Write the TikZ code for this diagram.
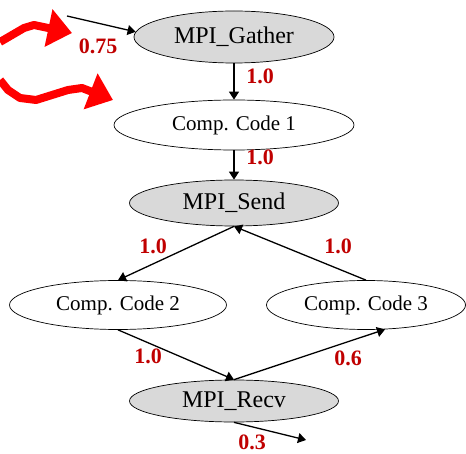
\documentclass[tikz,border=0pt]{standalone}
\usepackage{fontspec}
\setmainfont{Liberation Serif}
\definecolor{mpigray}{RGB}{217,217,217}
\definecolor{wtred}{RGB}{192,0,0}
\definecolor{flowred}{RGB}{255,0,0}
\usetikzlibrary{shapes.geometric, arrows.meta, calc}
\tikzset{
    taskbox/.style={draw, ellipse, inner sep=0pt, line width=0.7pt, font=\fontsize{21}{24}\selectfont},
    mpibox/.style={taskbox, fill=mpigray, font=\fontsize{24}{28}\selectfont},
    codebox/.style={taskbox, fill=white},
    flowarrow/.style={-{Triangle[length=8pt, width=10pt]}, line width=1.3pt},
    weight/.style={font=\bfseries\fontsize{22}{24}\selectfont, text=wtred},
    hintarrow/.style={-{Triangle[length=24pt, width=37pt]}, line width=8pt, draw=flowred, line join=round},
}
\begin{document}
\begin{tikzpicture}[x=1pt, y=-1pt]
    \useasboundingbox (0,0) rectangle (466,454);

    % Tasks
    \node[mpibox, minimum width=200pt, minimum height=52pt] (gather) at (234, 37) {MPI\_Gather};
    \node[codebox, minimum width=240pt, minimum height=50pt] (code1) at (234, 125) {Comp. Code 1};
    \node[mpibox, minimum width=209pt, minimum height=46pt] (send) at (234, 203) {MPI\_Send};
    \node[codebox, minimum width=217pt, minimum height=49pt] (code2) at (118, 305) {Comp. Code 2};
    \node[codebox, minimum width=199pt, minimum height=49pt] (code3) at (366, 305) {Comp. Code 3};
    \node[mpibox, minimum width=209pt, minimum height=42pt] (recv) at (234, 401) {MPI\_Recv};

    % Loose ends
    \coordinate (in) at (67, 16);
    \coordinate (out) at (306, 440);

    % Edges
    \draw[flowarrow] (in) -- (gather.177);
    \draw[flowarrow] (gather) -- (code1);
    \draw[flowarrow] (code1) -- (send);
    \draw[flowarrow] (send.south) -- (code2.north);
    \draw[flowarrow] (code3.north) -- (send.south);
    \draw[flowarrow] (code2.south) -- (recv.north);
    \draw[flowarrow] (recv.north) -- (code3.-52);
    \draw[flowarrow] (recv.south) -- (out);

    % Weights
    \node[weight] (w0) at (98, 46) {0.75};
    \node[weight] (w1) at (260, 76) {1.0};
    \node[weight] (w2) at (260, 157) {1.0};
    \node[weight] (w3) at (153, 246) {1.0};
    \node[weight] (w4) at (338, 246) {1.0};
    \node[weight] (w5) at (148, 356) {1.0};
    \node[weight] (w6) at (348, 358) {0.6};
    \node[weight] (w7) at (252, 442) {0.3};

    % Red hint arrows
    \draw[hintarrow] (0,42) -- (12,35) -- (24,28) -- (34,25) -- (72,33);
    \draw[hintarrow] (0,80) -- (8,90) -- (20,98) -- (36,100) -- (52,95) -- (68,90) -- (82,88) -- (113,100);
\end{tikzpicture}
\end{document}
